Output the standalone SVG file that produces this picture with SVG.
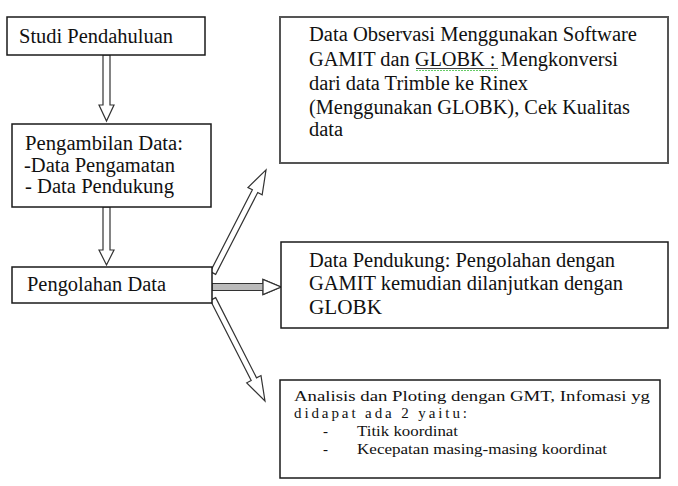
<svg xmlns="http://www.w3.org/2000/svg" width="678" height="486" viewBox="0 0 678 486">
<style>
.box{fill:#fff;stroke:#1a1a1a;stroke-width:1.5}
.box.g{stroke:#555;stroke-width:2}
.t{font-family:"Liberation Serif","Times New Roman",serif;font-size:20px;fill:#111}
.s{font-family:"Liberation Serif","Times New Roman",serif;font-size:15px;fill:#111}
.arr{fill:#fff;stroke:#333;stroke-width:1.2;stroke-linejoin:miter}
</style>
<rect width="678" height="486" fill="#fff"/>
<g id="connectors">
<polygon class="arr" points="103,55 110,55 110,105 114,105 106.5,121 99,105 103,105"/>
<polygon class="arr" points="103,207 110,207 110,250 114,250 106.5,265 99,250 103,250"/>
<polygon class="arr" style="fill:#bbb" points="212,283.5 263,283.5 263,279.5 281,287 263,294.5 263,290.5 212,290.5"/>
<polygon class="arr" points="263,287 263,283.5 263,279.5 281,287 263,294.5 263,290.5" style="fill:#fff"/>
<polygon class="arr" transform="translate(213,273) rotate(-62.8)" points="0,-3 92,-3 92,-8 116,0 92,8 92,3 0,3"/>
<polygon class="arr" transform="translate(213,299) rotate(63)" points="0,-3 90,-3 90,-8 114.5,0 90,8 90,3 0,3"/>
</g>
<g id="studi">
<rect class="box" x="7" y="17" width="198" height="38"/>
<text class="t" x="19" y="43" textLength="154" lengthAdjust="spacingAndGlyphs">Studi Pendahuluan</text>
</g>
<g id="pengambilan">
<rect class="box" x="12" y="124" width="199" height="83"/>
<text class="t" x="25" y="150" textLength="158" lengthAdjust="spacingAndGlyphs">Pengambilan Data:</text>
<text class="t" x="24" y="172" textLength="151" lengthAdjust="spacingAndGlyphs">-Data Pengamatan</text>
<text class="t" x="25" y="193" textLength="149" lengthAdjust="spacingAndGlyphs">- Data Pendukung</text>
</g>
<g id="pengolahan">
<rect class="box" x="12" y="267" width="200" height="36"/>
<text class="t" x="27" y="291" textLength="139" lengthAdjust="spacingAndGlyphs">Pengolahan Data</text>
</g>
<g id="observasi">
<rect class="box g" x="280" y="17" width="388" height="146"/>
<text class="t" x="309" y="41" textLength="328" lengthAdjust="spacingAndGlyphs">Data Observasi  Menggunakan  Software</text>
<text class="t" x="309" y="66" textLength="309" lengthAdjust="spacingAndGlyphs">GAMIT dan GLOBK : Mengkonversi</text>
<line x1="416" y1="68.5" x2="498" y2="68.5" stroke="#444" stroke-width="1"/>
<line x1="416" y1="70.5" x2="498" y2="70.5" stroke="#6c6" stroke-width="1" stroke-dasharray="2,1"/>
<text class="t" x="309" y="90" textLength="219" lengthAdjust="spacingAndGlyphs">dari data Trimble ke Rinex</text>
<text class="t" x="309" y="114" textLength="321" lengthAdjust="spacingAndGlyphs">(Menggunakan  GLOBK), Cek Kualitas</text>
<text class="t" x="309" y="136" textLength="34" lengthAdjust="spacingAndGlyphs">data</text>
</g>
<g id="pendukung">
<rect class="box" x="281" y="242" width="387" height="86"/>
<text class="t" x="309" y="267" textLength="306" lengthAdjust="spacingAndGlyphs">Data Pendukung: Pengolahan dengan</text>
<text class="t" x="309" y="290" textLength="314" lengthAdjust="spacingAndGlyphs">GAMIT kemudian dilanjutkan dengan</text>
<text class="t" x="309" y="314" textLength="73" lengthAdjust="spacingAndGlyphs">GLOBK</text>
</g>
<g id="analisis">
<rect class="box" x="280" y="380" width="380" height="98"/>
<text class="s" x="294" y="401" textLength="356" lengthAdjust="spacingAndGlyphs">Analisis  dan Ploting  dengan GMT, Infomasi yg</text>
<text class="s" x="294" y="418" textLength="173" lengthAdjust="spacing">didapat ada 2 yaitu:</text>
<text class="s" x="323" y="436">-</text>
<text class="s" x="357" y="436" textLength="101" lengthAdjust="spacingAndGlyphs">Titik koordinat</text>
<text class="s" x="323" y="454">-</text>
<text class="s" x="357" y="454" textLength="250" lengthAdjust="spacingAndGlyphs">Kecepatan masing-masing koordinat</text>
</g>
</svg>
